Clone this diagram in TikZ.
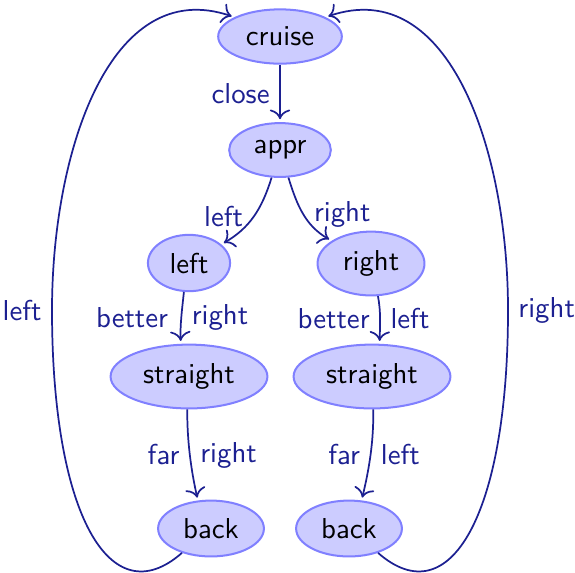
\documentclass[tikz,border=0pt]{standalone}
\usetikzlibrary{shapes.geometric,arrows.meta}
\definecolor{edgecol}{RGB}{28,32,145}
\begin{document}
\begin{tikzpicture}[x=0.3472pt,y=-0.3472pt, font=\sffamily,
  state/.style={ellipse, draw=blue!50, fill=blue!20, line width=0.7pt, text=black},
  edge/.style={-{To[scale=1.15]}, draw=edgecol, line width=0.6pt, shorten >=1pt},
  lab/.style={text=edgecol}]
\useasboundingbox (0,0) rectangle (575,572);
\node[state] (cruise) at (280,36.5) {cruise};
\node[state] (appr) at (280,150) {appr};
\node[state] (left) at (189,263) {left};
\node[state] (right) at (371,263.5) {right};
\node[state] (straightL) at (189,376.5) {straight};
\node[state] (straightR) at (372,376.5) {straight};
\node[state] (backL) at (211,528.5) {back};
\node[state] (backR) at (349,528.5) {back};

\draw[edge] (cruise) -- node[lab,left] {close} (appr);
\draw[edge] (appr) to[out=-107,in=30] node[lab,left] {left} (left);
\draw[edge] (appr) to[out=-73,in=150] node[lab,right] {right} (right);
\draw[edge] (left.-100) .. controls (182,310) and (180,325) .. node[lab,left,xshift=-1pt] {better} node[lab,right] {right} (straightL.104);
\draw[edge] (right.-78) .. controls (381,312) and (380,325) .. node[lab,left] {better} node[lab,right] {left} (straightR.77);
\draw[edge] (straightL.-93) .. controls (187,440) and (191,470) .. node[lab,left] {far} node[lab,right] {right} (backL.115);
\draw[edge] (straightR.-88) .. controls (374,440) and (369,470) .. node[lab,left] {far} node[lab,right] {left} (backR.66);
\draw[edge] (backL.220) .. controls (110,616) and (52,514) .. (52,310) node[lab,left] {left}
  .. controls (52,152) and (110,-25) .. (cruise.157);
\draw[edge] (backR.320) .. controls (450,616) and (508,514) .. (508,310) node[lab,right] {right}
  .. controls (508,152) and (450,-25) .. (cruise.23);
\end{tikzpicture}
\end{document}
